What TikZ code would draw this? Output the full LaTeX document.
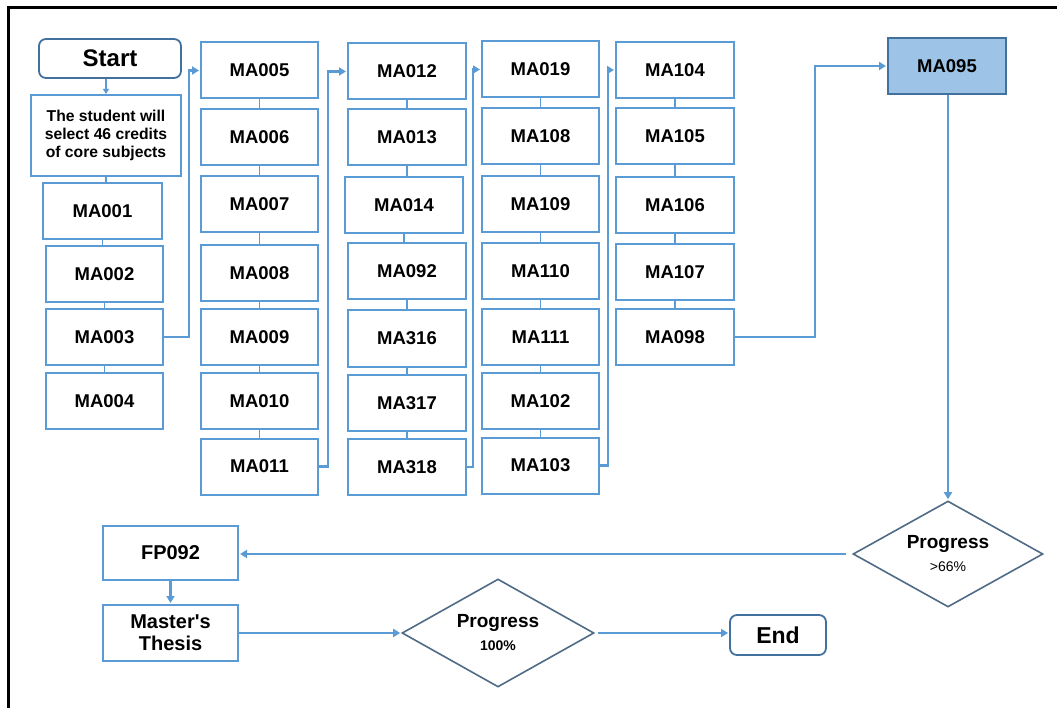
\documentclass[tikz,border=0pt]{standalone}
\usepackage{fontspec}
\setmainfont{Liberation Sans}
\usetikzlibrary{arrows.meta,shapes.geometric}
\definecolor{lineblue}{HTML}{5B9BD5}
\definecolor{darkblue}{HTML}{41719C}
\definecolor{dgray}{HTML}{4F6B85}
\definecolor{fillblue}{HTML}{9DC3E6}
\tikzset{
 mabox/.style={draw=lineblue, line width=2pt, fill=white, rectangle, minimum width=117pt, minimum height=56pt, inner sep=0pt, font=\fontsize{18.5}{22}\selectfont\bfseries, text=black},
 bigbox/.style={mabox, minimum width=135pt, font=\fontsize{20}{22}\selectfont\bfseries, align=center},
 link/.style={draw=lineblue, line width=1.4pt},
 arr/.style={draw=lineblue, line width=2.2pt, -{Triangle[length=7pt,width=8pt]}, shorten >=1pt},
 term/.style={draw=darkblue, line width=1.8pt, rounded corners=7pt, fill=white, inner sep=0pt, text=black},
 dec/.style={diamond, aspect=1.8, draw=dgray, line width=1.6pt, fill=white, inner sep=0pt, align=center, text=black, font=\fontsize{19}{23}\selectfont\bfseries},
}
\begin{document}
\begin{tikzpicture}[x=1pt,y=-1pt]
\useasboundingbox (0,0) rectangle (1057,708);
\fill[white] (0,0) rectangle (1057,708);
\draw[line width=3pt] (8,708) -- (8,8) -- (1057,8);

% column 1
\node[term, minimum width=142pt, minimum height=39pt, font=\fontsize{24}{26}\selectfont\bfseries] (start) at (110,58.5) {Start};
\node[mabox, minimum width=150pt, minimum height=81pt, align=center, font=\fontsize{15.7}{17.8}\selectfont\bfseries] (intro) at (106,135.5) {The student will\\select 46 credits\\of core subjects};
\node[mabox, minimum width=119pt] (ma001) at (102.5,211) {MA001};
\node[mabox] (ma002) at (104.5,274.5) {MA002};
\node[mabox] (ma003) at (104.5,337) {MA003};
\node[mabox] (ma004) at (104.5,401) {MA004};

% column 2
\node[mabox] (ma005) at (259.5,70.5) {MA005};
\node[mabox] (ma006) at (259.5,137.5) {MA006};
\node[mabox] (ma007) at (259.5,204.5) {MA007};
\node[mabox] (ma008) at (259.5,273) {MA008};
\node[mabox] (ma009) at (259.5,337) {MA009};
\node[mabox] (ma010) at (259.5,401) {MA010};
\node[mabox] (ma011) at (259.5,466.5) {MA011};

% column 3
\node[mabox, minimum width=118pt] (ma012) at (407,71.5) {MA012};
\node[mabox, minimum width=118pt] (ma013) at (407,137.5) {MA013};
\node[mabox, minimum width=118pt] (ma014) at (404,205.5) {MA014};
\node[mabox, minimum width=118pt] (ma092) at (407,271.5) {MA092};
\node[mabox, minimum width=118pt] (ma316) at (407,338.5) {MA316};
\node[mabox, minimum width=118pt] (ma317) at (407,403) {MA317};
\node[mabox, minimum width=118pt] (ma318) at (407,467) {MA318};

% column 4
\node[mabox] (ma019) at (540.5,69.5) {MA019};
\node[mabox] (ma108) at (540.5,136) {MA108};
\node[mabox] (ma109) at (540.5,204) {MA109};
\node[mabox] (ma110) at (540.5,271) {MA110};
\node[mabox] (ma111) at (540.5,337) {MA111};
\node[mabox] (ma102) at (540.5,401) {MA102};
\node[mabox] (ma103) at (540.5,465.5) {MA103};

% column 5
\node[mabox, minimum width=118pt] (ma104) at (675,70) {MA104};
\node[mabox, minimum width=118pt] (ma105) at (675,136) {MA105};
\node[mabox, minimum width=118pt] (ma106) at (675,205.5) {MA106};
\node[mabox, minimum width=118pt] (ma107) at (675,272) {MA107};
\node[mabox, minimum width=118pt] (ma098) at (675,337) {MA098};

% MA095
\node[mabox, minimum width=118pt, draw=darkblue, fill=fillblue] (ma095) at (947,66) {MA095};

% bottom
\node[dec, minimum width=190pt, minimum height=106pt] (d1) at (948,554)
 {Progress\\{\fontsize{14}{23}\selectfont\mdseries >66\%}};
\node[bigbox, minimum height=54pt] (fp092) at (170.5,553) {FP092};
\node[bigbox, minimum height=56pt] (thesis) at (170.5,633) {Master\textquotesingle s\\Thesis};
\node[dec, minimum width=192pt, minimum height=108pt] (d2) at (498,633)
 {Progress\\{\fontsize{14}{23}\selectfont 100\%}};
\node[term, minimum width=96pt, minimum height=40pt, font=\fontsize{23}{25}\selectfont\bfseries] (end) at (778,635) {End};

% stacked links
\foreach \a/\b in {intro/ma001, ma001/ma002, ma002/ma003, ma003/ma004,
  ma005/ma006, ma006/ma007, ma007/ma008, ma008/ma009, ma009/ma010, ma010/ma011,
  ma012/ma013, ma013/ma014, ma014/ma092, ma092/ma316, ma316/ma317, ma317/ma318,
  ma019/ma108, ma108/ma109, ma109/ma110, ma110/ma111, ma111/ma102, ma102/ma103,
  ma104/ma105, ma105/ma106, ma106/ma107, ma107/ma098}
  \draw[link] (\a.south) -- (\a.south |- \b.north);

\draw[draw=lineblue, line width=1.6pt, -{Triangle[length=5pt,width=6pt]}] (start.south -| intro.north) -- (intro.north);

% column jumps
\coordinate (j1) at (189,0);
\coordinate (j2) at (328,0);
\coordinate (j3) at (473,0);
\coordinate (j4) at (608,0);
\coordinate (j5) at (815,0);
\draw[arr] (ma003.east) -- (ma003.east -| j1) -- (j1 |- ma005.west) -- (ma005.west);
\draw[arr] (ma011.east) -- (ma011.east -| j2) -- (j2 |- ma012.west) -- (ma012.west);
\draw[arr] (ma318.east) -- (ma318.east -| j3) -- (j3 |- ma019.west) -- (ma019.west);
\draw[arr] (ma103.east) -- (ma103.east -| j4) -- (j4 |- ma104.west) -- (ma104.west);
\draw[arr] (ma098.east) -- (ma098.east -| j5) -- (j5 |- ma095.west) -- (ma095.west);

\draw[arr] (ma095.south -| d1.north) -- (d1.north);
\draw[arr, shorten <=6pt] (d1.west) -- (d1.west -| fp092.east);
\draw[arr] (fp092.south) -- (thesis.north);
\draw[arr] (thesis.east) -- (d2.west);
\draw[arr, shorten <=3pt] (d2.east) -- (d2.east -| end.west);
\end{tikzpicture}
\end{document}
